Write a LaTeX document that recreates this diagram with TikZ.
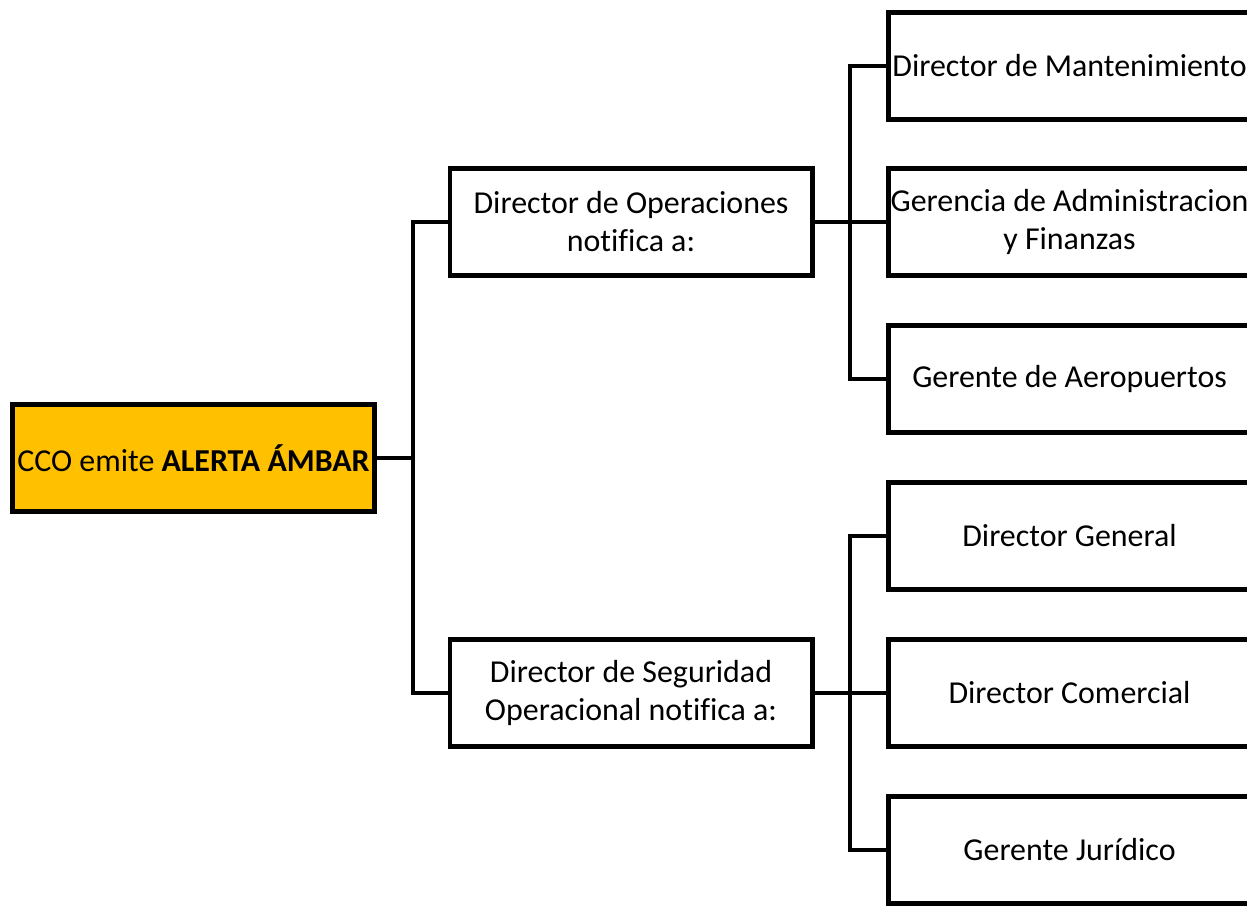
\documentclass[tikz,border=0pt]{standalone}
\usepackage{fontspec}
\setmainfont[Ligatures=NoCommon]{Carlito}
\usepackage{tikz}
\definecolor{ambar}{HTML}{FFC000}

\begin{document}
\begin{tikzpicture}[x=0.025cm, y=-0.025cm, line width=3.5pt,
	caja/.style={draw, rectangle, minimum width=9.05cm, minimum height=2.675cm, inner sep=1pt, align=center, font=\fontsize{22.7}{27}\selectfont},
	alerta/.style={caja, fill=ambar}]
			\clip (0,0) rectangle (1247,907);
			\node[alerta] (cco) at (193.5,458) {CCO emite \textbf{ALERTA ÁMBAR}};
			\node[caja] (ops) at (631,222) {Director de Operaciones\\notifica a:};
			\node[caja] (seg) at (631,693) {Director de Seguridad\\Operacional notifica a:};
			\node[caja] (mant) at (1069.5,66) {Director de Mantenimiento};
			\node[caja] (adm) at (1069.5,222) {Gerencia de Administracion\\y Finanzas};
			\node[caja] (aero) at (1069.5,379) {Gerente de Aeropuertos};
			\node[caja] (dg) at (1069.5,536) {Director General};
			\node[caja] (dc) at (1069.5,693) {Director Comercial};
			\node[caja] (jur) at (1069.5,850) {Gerente Jurídico};
			
			\coordinate (busA) at (413,458);
			\coordinate (busB) at (850,222);
			\coordinate (busC) at (850,693);
			
			\draw (cco.east) -- (busA);
			\draw (ops.west) -| (busA) |- (seg.west);
			\draw (ops.east) -- (busB) -- (adm.west);
			\draw (mant.west) -| (busB) |- (aero.west);
			\draw (seg.east) -- (busC) -- (dc.west);
			\draw (dg.west) -| (busC) |- (jur.west);
			\end{tikzpicture}
\end{document}
